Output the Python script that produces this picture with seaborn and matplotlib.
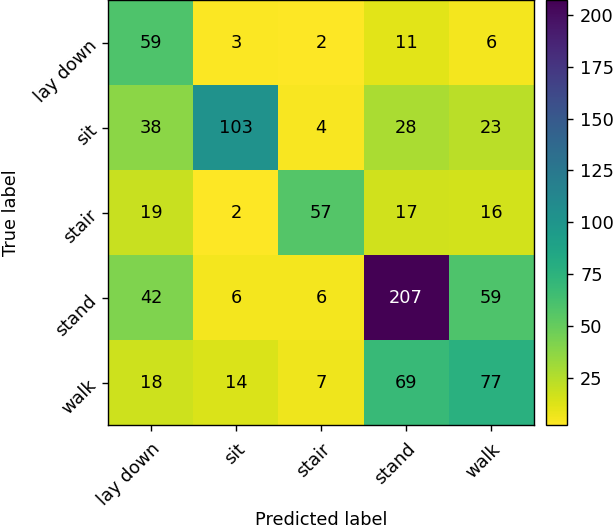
import numpy as np
import matplotlib
matplotlib.use("Agg")
import matplotlib.pyplot as plt
import seaborn as sns

# class names and confusion counts (rows = true, cols = predicted)
labels = ["lay down", "sit", "stair", "stand", "walk"]
row_lay_down = [59, 3, 2, 11, 6]
row_sit = [38, 103, 4, 28, 23]
row_stair = [19, 2, 57, 17, 16]
row_stand = [42, 6, 6, 207, 59]
row_walk = [18, 14, 7, 69, 77]

cm = np.array([row_lay_down, row_sit, row_stair, row_stand, row_walk])

plt.rcParams['font.family'] = ['DejaVu Sans']
fs = 12.8

fig = plt.figure(figsize=(6.14, 5.31), dpi=100)
ax = fig.add_axes([0.1767, 0.1987, 0.6922, 0.8004])
cax = fig.add_axes([0.889, 0.1987, 0.0342, 0.8004])

sns.heatmap(cm, ax=ax, cbar_ax=cax, cmap="viridis_r", annot=False,
            xticklabels=labels, yticklabels=labels, linewidths=0)

# annotate, white text on the dark cells
thresh = (cm.max() + cm.min()) / 2.0
for i in range(cm.shape[0]):
    for j in range(cm.shape[1]):
        col = "white" if cm[i, j] > thresh else "black"
        ax.text(j + 0.5, i + 0.5, str(cm[i, j]), ha="center", va="center",
                color=col, fontsize=fs)

for s in ax.spines.values():
    s.set_visible(True)
    s.set_color("black")
    s.set_linewidth(1.0)

ax.tick_params(axis="both", length=4.5, width=1, pad=6, labelsize=fs, colors="black")
plt.setp(ax.get_xticklabels(), rotation=45, ha="right", rotation_mode="anchor")
plt.setp(ax.get_yticklabels(), rotation=45, ha="right", va="center", rotation_mode="anchor")
ax.set_xlabel("Predicted label", fontsize=fs, labelpad=1)
ax.set_ylabel("True label", fontsize=fs, labelpad=8)

cbar = ax.collections[0].colorbar
cbar.set_ticks([25, 50, 75, 100, 125, 150, 175, 200])
cbar.ax.tick_params(labelsize=fs, length=4.5, width=1, pad=5)
cbar.outline.set_visible(True)
cbar.outline.set_edgecolor("black")
cbar.outline.set_linewidth(1.0)

plt.savefig("out.png", dpi=100)
